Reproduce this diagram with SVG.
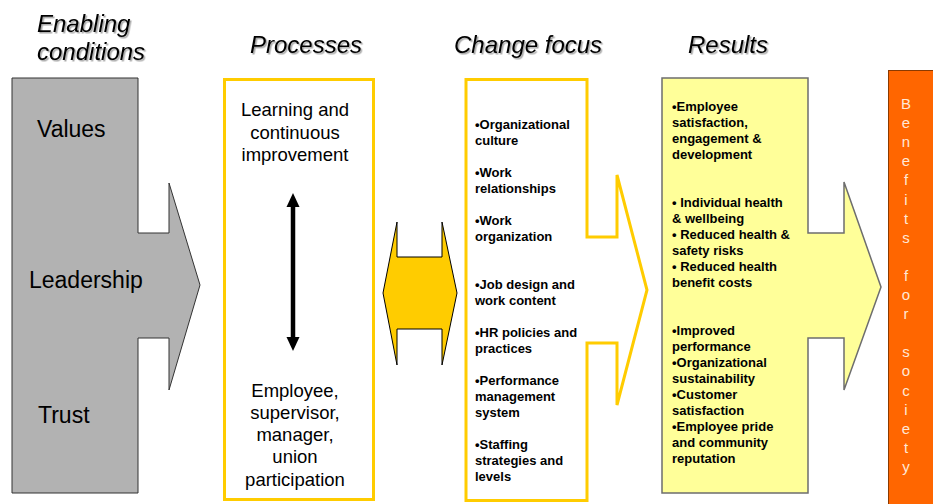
<svg xmlns="http://www.w3.org/2000/svg" width="933" height="504" viewBox="0 0 933 504">
<defs>
<filter id="sh" x="-10%" y="-20%" width="130%" height="160%">
<feDropShadow dx="1.5" dy="1.5" stdDeviation="0.6" flood-color="#000" flood-opacity="0.35"/>
</filter>
</defs>
<style>
.title{font-family:"Liberation Sans",Arial,sans-serif;font-style:italic;font-size:24px;fill:#000}
.big{font-family:"Liberation Sans",Arial,sans-serif;font-size:23px;fill:#000}
.proc{font-family:"Liberation Sans",Arial,sans-serif;font-size:18.5px;fill:#000;text-anchor:middle}
.bul{font-family:"Liberation Sans",Arial,sans-serif;font-size:13px;font-weight:bold;fill:#000}
.vert{font-family:"Liberation Sans",Arial,sans-serif;font-size:15px;fill:#FFE8D6;text-anchor:middle}
.yb{fill:#fff;stroke:#FFCC00;stroke-width:3}
</style>
<rect width="933" height="504" fill="#fff"/>

<g id="titles" filter="url(#sh)">
<text class="title" x="37" y="32">Enabling</text>
<text class="title" x="37" y="60">conditions</text>
<text class="title" x="250" y="53">Processes</text>
<text class="title" x="454" y="53">Change focus</text>
<text class="title" x="688" y="53">Results</text>
</g>

<g id="enabling">
<path d="M12,78 L138,78 L138,233 L169,233 L169,183 L200,285 L169,390 L169,338 L138,338 L138,493 L12,493 Z" fill="#B2B2B2" stroke="#333" stroke-width="1"/>
<text class="big" x="37" y="137">Values</text>
<text class="big" x="29" y="288">Leadership</text>
<text class="big" x="38" y="423">Trust</text>
</g>

<g id="processes">
<rect class="yb" x="224.5" y="79.5" width="149" height="420"/>
<text class="proc" x="295" y="116">Learning and</text>
<text class="proc" x="295" y="138.5">continuous</text>
<text class="proc" x="295" y="161">improvement</text>
<text class="proc" x="295" y="396.5">Employee,</text>
<text class="proc" x="295" y="418.8">supervisor,</text>
<text class="proc" x="295" y="441">manager,</text>
<text class="proc" x="295" y="463.3">union</text>
<text class="proc" x="295" y="485.5">participation</text>
</g>

<g id="connectors">
<line x1="293" y1="204" x2="293" y2="340" stroke="#000" stroke-width="4.5"/>
<polygon points="293,193 286.5,207 299.5,207" fill="#000"/>
<polygon points="293,351 286.5,337 299.5,337" fill="#000"/>
<path id="exchange" d="M383,293 L397,222 L397,257 L442,257 L442,222 L457,293 L442,365 L442,329 L397,329 L397,365 Z" fill="#FFCC00" stroke="#000" stroke-width="1"/>
</g>

<g id="change-focus">
<path class="yb" d="M466,79.5 L587,79.5 L587,237 L617,237 L617,175 L647,290 L617,405 L617,343 L587,343 L587,500.5 L466,500.5 Z"/>
<text class="bul" x="475" y="129">•Organizational</text>
<text class="bul" x="475" y="145">culture</text>
<text class="bul" x="475" y="177">•Work</text>
<text class="bul" x="475" y="193">relationships</text>
<text class="bul" x="475" y="225">•Work</text>
<text class="bul" x="475" y="241">organization</text>
<text class="bul" x="475" y="289">•Job design and</text>
<text class="bul" x="475" y="305">work content</text>
<text class="bul" x="475" y="337">•HR policies and</text>
<text class="bul" x="475" y="353">practices</text>
<text class="bul" x="475" y="385">•Performance</text>
<text class="bul" x="475" y="401">management</text>
<text class="bul" x="475" y="417">system</text>
<text class="bul" x="475" y="449">•Staffing</text>
<text class="bul" x="475" y="465">strategies and</text>
<text class="bul" x="475" y="481">levels</text>
</g>

<g id="results">
<path d="M662,78 L808,78 L808,233 L844,233 L844,182 L881,287 L844,390 L844,338 L808,338 L808,493 L662,493 Z" fill="#FFFF99" stroke="#6E6E6E" stroke-width="1.5"/>
<text class="bul" x="672" y="111">•Employee</text>
<text class="bul" x="672" y="127">satisfaction,</text>
<text class="bul" x="672" y="143">engagement &amp;</text>
<text class="bul" x="672" y="159">development</text>
<text class="bul" x="672" y="207">• Individual health</text>
<text class="bul" x="672" y="223">&amp; wellbeing</text>
<text class="bul" x="672" y="239">• Reduced health &amp;</text>
<text class="bul" x="672" y="255">safety risks</text>
<text class="bul" x="672" y="271">• Reduced health</text>
<text class="bul" x="672" y="287">benefit costs</text>
<text class="bul" x="672" y="335">•Improved</text>
<text class="bul" x="672" y="351">performance</text>
<text class="bul" x="672" y="367">•Organizational</text>
<text class="bul" x="672" y="383">sustainability</text>
<text class="bul" x="672" y="399">•Customer</text>
<text class="bul" x="672" y="415">satisfaction</text>
<text class="bul" x="672" y="431">•Employee pride</text>
<text class="bul" x="672" y="447">and community</text>
<text class="bul" x="672" y="463">reputation</text>
</g>

<g id="society">
<rect x="888.5" y="70.5" width="50" height="440" fill="#FF6600" stroke="#8B3A00" stroke-width="1"/>
<text class="vert" x="906" y="109">B<tspan x="906" dy="19.1">e</tspan><tspan x="906" dy="19.1">n</tspan><tspan x="906" dy="19.1">e</tspan><tspan x="906" dy="19.1">f</tspan><tspan x="906" dy="19.1">i</tspan><tspan x="906" dy="19.1">t</tspan><tspan x="906" dy="19.1">s</tspan><tspan x="906" dy="38.2">f</tspan><tspan x="906" dy="19.1">o</tspan><tspan x="906" dy="19.1">r</tspan><tspan x="906" dy="38.2">s</tspan><tspan x="906" dy="19.1">o</tspan><tspan x="906" dy="19.1">c</tspan><tspan x="906" dy="19.1">i</tspan><tspan x="906" dy="19.1">e</tspan><tspan x="906" dy="19.1">t</tspan><tspan x="906" dy="19.1">y</tspan></text>
</g>
</svg>
